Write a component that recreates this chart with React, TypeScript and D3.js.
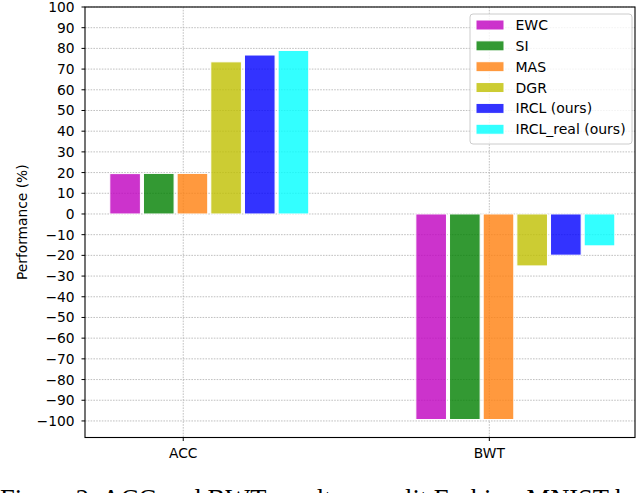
import React from 'react';
import * as d3 from 'd3';

// metrics on the x axis
const metrics = ['ACC', 'BWT'];
// methods (one bar each per metric)
const methods = ['EWC', 'SI', 'MAS', 'DGR', 'IRCL (ours)', 'IRCL_real (ours)'];
const colors = ['#bf00bf', '#008000', '#ff7f0e', '#bfbf00', '#0000ff', '#00ffff'];
// values, one array per metric, ordered like methods
const accValues = [19.5, 19.6, 19.6, 73.5, 76.8, 79.0];
const bwtValues = [-99.3, -99.3, -99.3, -25.1, -19.9, -15.4];
const yTicks = d3.range(-100, 101, 10);

const W = 640;
const H = 493;
const font = 'DejaVu Sans, sans-serif';

export default function App() {
  const left = 85, right = 635, top = 7, bottom = 437.5;
  const x = d3.scaleLinear().domain([-0.321, 1.476]).range([left, right]);
  const y = d3.scaleLinear().domain([-108, 100]).range([bottom, top]);
  const barW = 0.1;
  const step = 0.11;
  const offset = -0.24;
  const series = [accValues, bwtValues];
  const fmt = (v: number) => (v < 0 ? '\u2212' + Math.abs(v) : String(v));

  const legX = 470, legY = 14, legW = 162, legH = 130;
  const rowH = 20.85;

  return (
    <svg width={W} height={H} style={{ position: 'absolute', left: 0, top: 0, background: '#fff' }}>
      {/* grid */}
      <g stroke="#b0b0b0" strokeWidth={0.8} strokeDasharray="1.6,1.2">
        {yTicks.map((t) => (
          <line key={'gy' + t} x1={left} x2={right} y1={y(t)} y2={y(t)} />
        ))}
        {metrics.map((m, i) => (
          <line key={'gx' + m} x1={x(i)} x2={x(i)} y1={top} y2={bottom} />
        ))}
      </g>

      {/* bars */}
      {metrics.map((m, i) =>
        series[i].map((v, j) => {
          const x0 = x(i + offset + j * step);
          const x1 = x(i + offset + j * step + barW);
          const y0 = y(Math.max(0, v));
          const y1 = y(Math.min(0, v));
          return (
            <rect
              key={m + j}
              x={x0}
              y={y0}
              width={x1 - x0}
              height={y1 - y0}
              fill={colors[j]}
              fillOpacity={0.8}
              stroke="#fff"
              strokeWidth={1}
            />
          );
        })
      )}

      {/* frame */}
      <rect x={left} y={top} width={right - left} height={bottom - top} fill="none" stroke="#000" strokeWidth={1.1} />

      {/* axes ticks and labels */}
      <g fontFamily={font} fontSize={13.8} fill="#000">
        {yTicks.map((t) => (
          <g key={'ty' + t}>
            <line x1={left - 3.5} x2={left} y1={y(t)} y2={y(t)} stroke="#000" strokeWidth={1} />
            <text x={left - 10.5} y={y(t)} textAnchor="end" dominantBaseline="central">
              {fmt(t)}
            </text>
          </g>
        ))}
        {metrics.map((m, i) => (
          <g key={'tx' + m}>
            <line x1={x(i)} x2={x(i)} y1={bottom} y2={bottom + 3.5} stroke="#000" strokeWidth={1} />
            <text x={x(i)} y={bottom + 20} textAnchor="middle">
              {m}
            </text>
          </g>
        ))}
        <text transform={`translate(27,${(top + bottom) / 2}) rotate(-90)`} textAnchor="middle">
          Performance (%)
        </text>
      </g>

      {/* legend */}
      <rect x={legX} y={legY} width={legW} height={legH} rx={3} fill="#fff" fillOpacity={0.8} stroke="#cccccc" strokeWidth={1} />
      <g fontFamily={font} fontSize={14} fill="#000">
        {methods.map((name, j) => {
          const cy = legY + 11 + j * rowH;
          return (
            <g key={'leg' + name}>
              <rect x={legX + 6} y={cy - 5} width={28} height={10} fill={colors[j]} fillOpacity={0.8} stroke="#fff" strokeWidth={1} />
              <text x={legX + 45.5} y={cy} dominantBaseline="central">
                {name}
              </text>
            </g>
          );
        })}
      </g>

      {/* caption of the paper, cut off by the bottom edge as in the source */}
      <text x={0} y={508} fontFamily="Liberation Serif, Times New Roman, serif" fontSize={26.5} fill="#000">
        Figure 2: ACC and BWT results on split Fashion-MNIST benchmark.
      </text>
    </svg>
  );
}
